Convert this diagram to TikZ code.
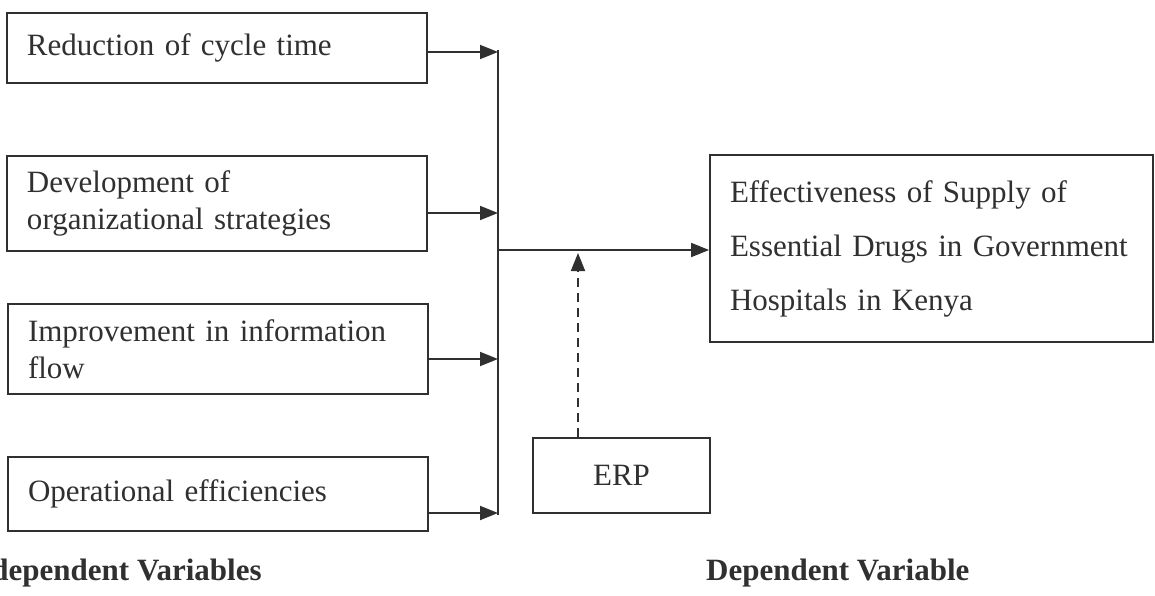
\documentclass[tikz,border=0pt]{standalone}
\usepackage{fontspec}
\setmainfont{Liberation Serif}
\usetikzlibrary{arrows.meta}
\definecolor{ink}{HTML}{303030}
\tikzset{
  box/.style={draw=ink, line width=1.8pt, text=ink, font=\fontsize{31}{37}\selectfont,
    align=left, anchor=center, inner xsep=20pt, inner ysep=0pt},
  conn/.style={draw=ink, line width=1.8pt, -{Triangle[length=18pt,width=14pt]}},
  lab/.style={text=ink, font=\fontsize{31}{37}\selectfont\bfseries, anchor=base west, inner sep=0pt}
}
\begin{document}
\begin{tikzpicture}[x=1pt,y=-1pt]
\path[use as bounding box, clip] (0,0) rectangle (1155,596);
\fill[white] (0,0) rectangle (1155,596);

\node[box, minimum width=420pt, minimum height=70pt, text width=380pt] (b1) at (217,48) {Reduction of cycle time};
\node[box, minimum width=420pt, minimum height=95pt, text width=380pt] (b2) at (217,203.5) {Development of\\organizational strategies};
\node[box, minimum width=420pt, minimum height=90pt, text width=380pt] (b3) at (218,349) {Improvement in information\\flow};
\node[box, minimum width=420pt, minimum height=74pt, text width=380pt] (b4) at (218,494) {Operational efficiencies};

\node[box, minimum width=443pt, minimum height=187pt, text width=403pt,
  font=\fontsize{31}{54}\selectfont] (eff) at (931.5,248.5) {Effectiveness of Supply of\\Essential Drugs in Government\\Hospitals in Kenya};

\node[box, minimum width=177pt, minimum height=75pt, align=center, inner xsep=0pt] (erp) at (621.5,475.5) {ERP};

\coordinate (top) at (498,50);
\coordinate (bot) at (498,515);
\coordinate (jn) at (498,250);

\coordinate (s1) at ([yshift=-4pt]b1.east);
\coordinate (s2) at ([yshift=-9.5pt]b2.east);
\coordinate (s3) at ([yshift=-10pt]b3.east);
\coordinate (s4) at ([yshift=-19pt]b4.east);

\draw[ink, line width=1.8pt] (top) -- (bot);
\draw[conn] (s1) -- (top |- s1);
\draw[conn] (s2) -- (top |- s2);
\draw[conn] (s3) -- (top |- s3);
\draw[conn] (s4) -- (top |- s4);
\draw[conn] (jn) -- (eff.west |- jn);

\coordinate (dtip) at (578,253);
\draw[conn, dash pattern=on 9pt off 6pt] (erp.north -| dtip) -- (dtip);

\node[lab] (indep) at (-38,580) {Independent Variables};
\node[lab] (dep) at (706,580) {Dependent Variable};
\end{tikzpicture}
\end{document}
